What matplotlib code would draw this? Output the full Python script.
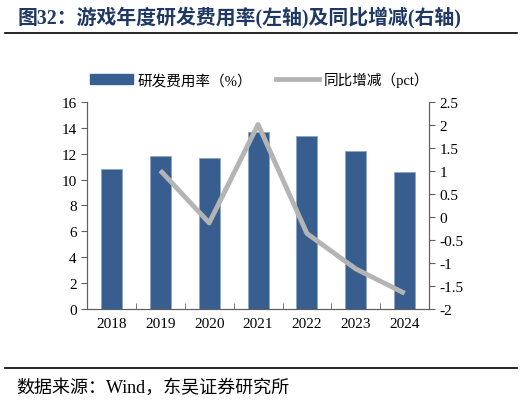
import matplotlib.pyplot as plt
from matplotlib.lines import Line2D
from matplotlib.patches import Patch

years = ['2018', '2019', '2020', '2021', '2022', '2023', '2024']
rd_rate = [10.81, 11.82, 11.69, 13.70, 13.34, 12.21, 10.55]
yoy_years = ['2019', '2020', '2021', '2022', '2023', '2024']
yoy_change = [1.01, -0.13, 2.01, -0.36, -1.13, -1.66]

left_ticks = [0, 2, 4, 6, 8, 10, 12, 14, 16]
right_ticks = [-2, -1.5, -1, -0.5, 0, 0.5, 1, 1.5, 2, 2.5]

serif = ['Liberation Serif', 'Noto Sans CJK SC']
plt.rcParams['font.family'] = serif

bar_color = '#375E8F'
line_color = '#B4B4B4'
axis_color = '#606060'

fig = plt.figure(figsize=(5.24, 4.02), dpi=100)
ax = fig.add_axes([0.166, 0.229, 0.653, 0.515])
ax2 = ax.twinx()

x = list(range(len(years)))
ax.bar(x, rd_rate, width=0.43, color=bar_color, edgecolor='#8FA6C4', linewidth=0.6, zorder=2)
ax.set_ylim(0, 16)
ax.set_yticks(left_ticks)
ax.set_xlim(-0.5, len(years) - 0.5)
ax.set_xticks(x)
ax.set_xticklabels(years)
ax.set_xticks([i + 0.5 for i in x[:-1]], minor=True)
ax.tick_params(axis='x', which='major', length=0, pad=6, labelsize=11)
ax.tick_params(axis='x', which='minor', direction='in', length=4, color=axis_color)
ax.tick_params(axis='y', direction='out', length=4, color=axis_color, labelsize=11)

line_x = [years.index(y) for y in yoy_years]
ax2.plot(line_x, yoy_change, color=line_color, linewidth=3.5, solid_capstyle='butt', zorder=3)
ax2.set_ylim(-2, 2.5)
ax2.set_yticks(right_ticks)
ax2.set_yticklabels([f'{t:g}' for t in right_ticks])
ax2.tick_params(axis='y', direction='out', length=4, color=axis_color, labelsize=11)

for a in (ax, ax2):
    a.spines['top'].set_visible(False)
    for s in ('left', 'right', 'bottom'):
        a.spines[s].set_color(axis_color)
        a.spines[s].set_linewidth(0.8)
ax.set_zorder(ax2.get_zorder() - 1)
ax.patch.set_visible(False)

handles = [Patch(color=bar_color), Line2D([0], [0], color=line_color, linewidth=3.5)]
fig.legend(handles, ['研发费用率（%）', '同比增减（pct）'], loc='center',
           bbox_to_anchor=(0.495, 0.80), ncol=2, frameon=False, fontsize=10.5,
           handlelength=3, handleheight=0.6, columnspacing=1.6, handletextpad=0.3)

fig.text(0.034, 0.957, '图32：游戏年度研发费用率(左轴)及同比增减(右轴)', fontsize=14.3,
         fontweight='bold', color='#1F3864', va='center', family=serif)
fig.add_artist(Line2D([0.01, 0.987], [0.915, 0.915], color='black', linewidth=1.2))
fig.add_artist(Line2D([0.01, 0.987], [0.082, 0.082], color='black', linewidth=1.2))
fig.text(0.032, 0.035, '数据来源：Wind，东吴证券研究所', fontsize=13, va='center', family=serif)

fig.savefig('out.png', dpi=100)
